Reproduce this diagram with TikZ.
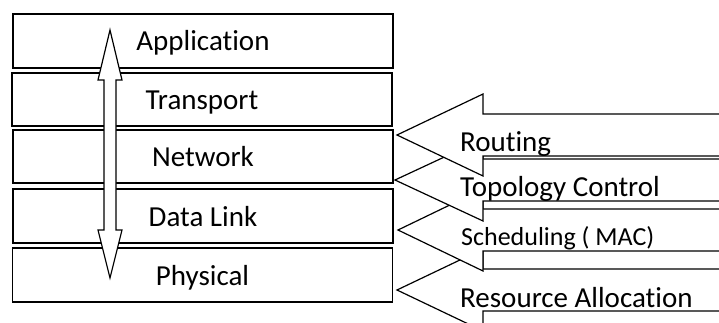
\documentclass[tikz,border=0pt]{standalone}
\usepackage{fontspec}
\setmainfont{Carlito}[RawFeature={-liga}]
\def\sidearrow(#1,#2){\draw[blockarrow] (#1,#2) -- (483,#2-41) -- (483,#2-21) -- (735,#2-21) -- (735,#2+21) -- (483,#2+21) -- (483,#2+41) -- cycle;}

\begin{document}
\begin{tikzpicture}[x=1pt,y=-1pt,
	layer/.style={draw, line width=1.2pt, minimum width=380pt, inner sep=0pt, text height=21pt, text depth=1pt, font=\fontsize{29}{35}\selectfont},
	blockarrow/.style={draw, fill=white, line width=1.2pt, line join=miter},
	task/.style={anchor=base west, inner sep=0pt, font=\fontsize{29}{35}\selectfont}]
			%%%%% START %%%%%
			
			\clip (0,0) rectangle (719,323);
			\fill[white] (0,0) rectangle (719,323);
			
			% protocol stack
			\node[layer, minimum height=54pt] (app) at (203,41) {Application};
			\node[layer, minimum height=53pt] (trans) at (202,99.5) {Transport};
			\node[layer, minimum height=53pt] (net) at (203,156.5) {Network};
			\node[layer, minimum height=54pt] (link) at (203,216) {Data Link};
			\node[layer, minimum height=54pt] (phy) at (202.5,275) {Physical};
			
			% cross-layer arrow
			\draw[blockarrow] (110,30) -- (122,80) -- (116,80) -- (116,230) -- (122,230) -- (110,278)
				-- (98,230) -- (104,230) -- (104,80) -- (98,80) -- cycle;
			
			% control functions, bottom one first
			\sidearrow(397,290)
			\sidearrow(398,230)
			\sidearrow(395,180)
			\sidearrow(397,135)
			
			\node[task] (routing) at (460,152) {Routing};
			\node[task] (topo) at (460,196) {Topology Control};
			\node[task, font=\fontsize{26}{31}\selectfont] (sched) at (461,245) {Scheduling ( MAC)};
			\node[task] (resalloc) at (460,307) {Resource Allocation};
			
			%%%%% END %%%%%
\end{tikzpicture}
\end{document}
